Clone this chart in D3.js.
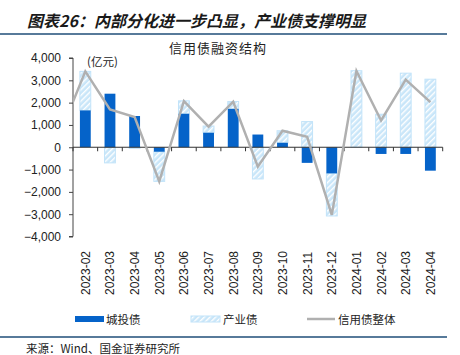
<!DOCTYPE html>
<html><head><meta charset="utf-8">
<script src="https://cdn.jsdelivr.net/npm/d3@7"></script>
<style>
body{margin:0;background:#fff;}
svg{display:block;}
text{font-family:"Liberation Sans",Arial,sans-serif;}
.cjk{font-family:"Noto Sans CJK SC",sans-serif;}
</style></head><body>
<script>
const categories = ["2023-02","2023-03","2023-04","2023-05","2023-06","2023-07","2023-08","2023-09","2023-10","2023-11","2023-12","2024-01","2024-02","2024-03","2024-04"];
const chengtou = [1650,2400,1400,-200,1500,650,1720,570,200,-700,-1170,0,-300,-300,-1050];
const chanye   = [1750,-700,-50,-1330,580,300,330,-1420,540,1150,-1910,3430,1480,3320,3050];
const totalPrev = {cat:"2023-01", value:680};
const total    = [3400,1700,1350,-1530,2070,920,2040,-870,740,470,-3030,3420,1200,3030,2020];
const yTicks = [-4000,-3000,-2000,-1000,0,1000,2000,3000,4000];
const seriesNames = ["城投债","产业债","信用债整体"];

const W=460,H=355;
const svg=d3.select("body").append("svg").attr("width",W).attr("height",H);
const defs=svg.append("defs");
const pat=defs.append("pattern").attr("id","hatch").attr("patternUnits","userSpaceOnUse")
  .attr("width",4).attr("height",4).attr("patternTransform","rotate(45)");
pat.append("rect").attr("width",4).attr("height",4).attr("fill","#c9e6f9");
pat.append("rect").attr("width",1.4).attr("height",4).attr("fill","#ffffff");

const L=73,R=442.7,T=58,B=236.5;
const x=d3.scaleBand().domain(categories).range([L,R]).paddingInner(0).paddingOuter(0);
const y=d3.scaleLinear().domain([-4000,4000]).range([B,T]);
const bw=x.bandwidth();
const barW=bw*0.44;

// title
svg.append("text").attr("class","cjk").attr("x",27).attr("y",27)
  .attr("font-size",16).attr("font-weight","bold").attr("font-style","italic")
  .attr("fill","#1a1a1a").text("图表26：内部分化进一步凸显，产业债支撑明显");
svg.append("line").attr("x1",0).attr("x2",447).attr("y1",34).attr("y2",34)
  .attr("stroke","#1f4e79").attr("stroke-width",1.5);
svg.append("text").attr("class","cjk").attr("x",218).attr("y",53).attr("text-anchor","middle")
  .attr("font-size",13).attr("letter-spacing",1).attr("fill","#222").text("信用债融资结构");
svg.append("text").attr("class","cjk").attr("x",87).attr("y",66)
  .attr("font-size",11.5).attr("fill","#222").text("(亿元)");

// stacked data
const rows=categories.map((c,i)=>({cat:c,ct:chengtou[i],cy:chanye[i]}));
const stack=d3.stack().keys(["ct","cy"]).offset(d3.stackOffsetDiverging)(rows);

// bars
const g=svg.append("g");
g.selectAll("rect.cy").data(stack[1]).join("rect")
  .attr("x",d=>x(d.data.cat)+(bw-barW)/2).attr("width",barW)
  .attr("y",d=>y(Math.max(d[0],d[1]))).attr("height",d=>Math.abs(y(d[0])-y(d[1])))
  .attr("fill","url(#hatch)").attr("stroke","#c2e3f9").attr("stroke-width",1);
g.selectAll("rect.ct").data(stack[0]).join("rect")
  .attr("x",d=>x(d.data.cat)+(bw-barW)/2).attr("width",barW)
  .attr("y",d=>y(Math.max(d[0],d[1]))).attr("height",d=>Math.abs(y(d[0])-y(d[1])))
  .attr("fill","#0563c9");

// axes
const yAxis=d3.axisLeft(y).tickValues(yTicks).tickSize(4).tickFormat(d3.format(",")).tickPadding(8);
const ya=svg.append("g").attr("transform",`translate(${L},0)`).call(yAxis);
ya.select(".domain").attr("stroke","#444").attr("d",`M-4,${T}H0V${B}H-4`);
ya.selectAll(".tick line").attr("stroke","#444");
ya.selectAll("text").attr("font-size",12).attr("fill","#222").attr("font-family","Liberation Sans, Arial, sans-serif");

// zero line with category ticks
const zg=svg.append("g");
zg.append("line").attr("x1",L).attr("x2",R).attr("y1",y(0)).attr("y2",y(0)).attr("stroke","#333").attr("stroke-width",1.2);
const bounds=categories.map(c=>x(c)).concat([R]);
zg.selectAll("line.t").data(bounds).join("line")
  .attr("x1",d=>d).attr("x2",d=>d).attr("y1",y(0)).attr("y2",y(0)+4).attr("stroke","#333");

// x labels
svg.append("g").selectAll("text").data(categories).join("text")
  .attr("transform",d=>`translate(${x(d)+bw/2+4.5},${295}) rotate(-90)`)
  .attr("font-size",12).attr("fill","#222").text(d=>d);

// line
defs.append("clipPath").attr("id","clip").append("rect").attr("x",L).attr("y",0).attr("width",R-L).attr("height",H);
const linePts=[{cx:x(categories[0])-bw/2,v:totalPrev.value}].concat(categories.map((c,i)=>({cx:x(c)+bw/2,v:total[i]})));
svg.append("path").attr("clip-path","url(#clip)").datum(linePts)
  .attr("d",d3.line().x(d=>d.cx).y(d=>y(d.v)))
  .attr("fill","none").attr("stroke","#b0b0b0").attr("stroke-width",2.5).attr("stroke-linejoin","miter");

// legend
const lg=svg.append("g");
lg.append("rect").attr("x",75).attr("y",316).attr("width",29).attr("height",6).attr("fill","#0563c9");
lg.append("text").attr("class","cjk").attr("x",106).attr("y",324).attr("font-size",11.5).attr("fill","#222").text(seriesNames[0]);
lg.append("rect").attr("x",191).attr("y",316).attr("width",29).attr("height",6).attr("fill","url(#hatch)").attr("stroke","#c2e3f9");
lg.append("text").attr("class","cjk").attr("x",223).attr("y",324).attr("font-size",11.5).attr("fill","#222").text(seriesNames[1]);
lg.append("line").attr("x1",307).attr("x2",335).attr("y1",319).attr("y2",319).attr("stroke","#b0b0b0").attr("stroke-width",2.5);
lg.append("text").attr("class","cjk").attr("x",338).attr("y",324).attr("font-size",11.5).attr("fill","#222").text(seriesNames[2]);

svg.append("line").attr("x1",0).attr("x2",447).attr("y1",337).attr("y2",337)
  .attr("stroke","#1f4e79").attr("stroke-width",1.5);
svg.append("text").attr("class","cjk").attr("x",26).attr("y",353).attr("font-size",11.5).attr("fill","#222").text("来源：Wind、国金证券研究所");
</script></body></html>
